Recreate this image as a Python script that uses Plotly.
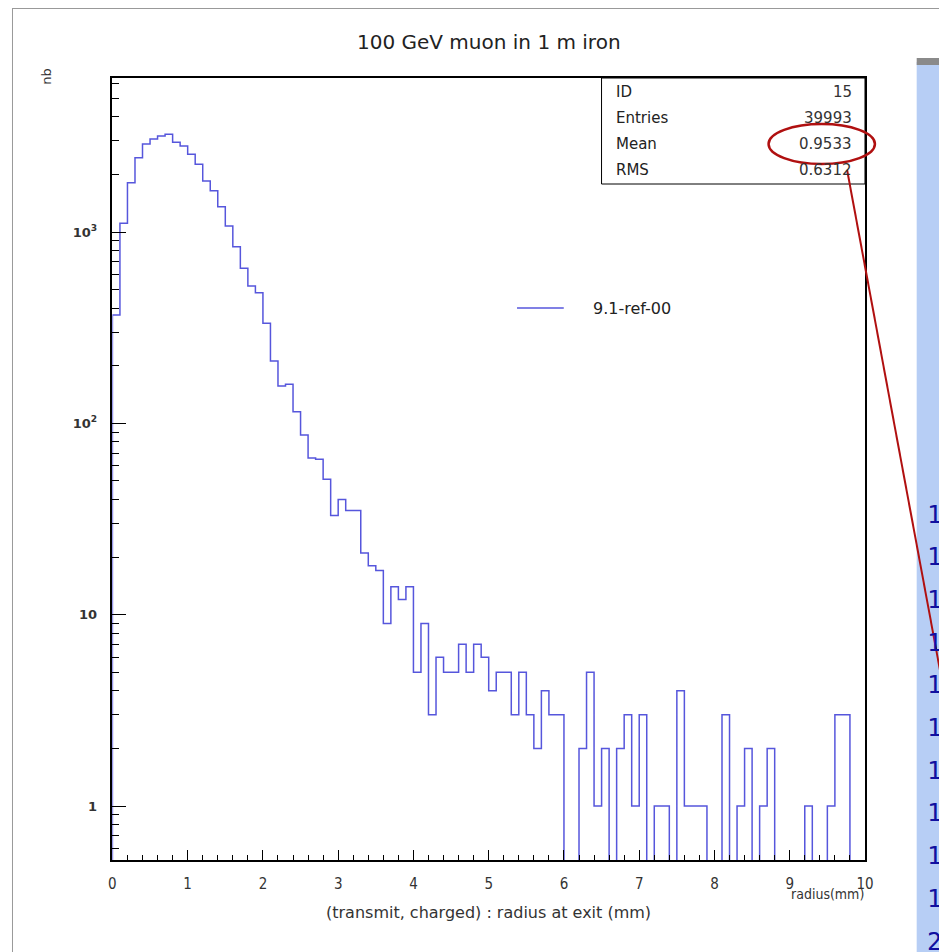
import numpy as np
import plotly.graph_objects as go

# bin contents, 100 bins of 0.1 mm between 0 and 10 mm
counts = [
    368, 1110, 1810, 2445, 2885, 3063, 3177, 3243, 2945, 2820,
    2547, 2258, 1849, 1644, 1356, 1075, 838, 646, 522, 482,
    334, 212, 157, 160, 115, 87, 66, 65, 51, 33,
    40, 35, 35, 21, 18, 17, 9, 14, 12, 14,
    5, 9, 3, 6, 5, 5, 7, 5, 7, 6,
    4, 5, 5, 3, 5, 3, 2, 4, 3, 3,
    0, 0, 2, 5, 1, 2, 0, 2, 3, 1,
    3, 0, 1, 1, 0, 4, 1, 1, 1, 0,
    0, 3, 0, 1, 2, 0, 1, 2, 0, 0,
    0, 0, 1, 0, 0, 1, 3, 3, 0, 0,
]
x_lo, x_hi = 0.0, 10.0
stat_names = ["ID", "Entries", "Mean", "RMS"]
stat_values = ["15", "39993", "0.9533", "0.6312"]
side_digits = ["1"] * 10 + ["2"]

# the page body adds an 8 px margin, the figure starts at (8, 8)
OFF = 8
W, H = 947, 952 - OFF
KX = 1.008  # small horizontal stretch seen in the renders


def px(x):
    return min((x - OFF) * KX / W, 1)


def py(y):
    return 1 - (y - OFF) / H


edges = np.linspace(x_lo, x_hi, len(counts) + 1)
floor = 1e-3  # empty bins drop below the frame
vals = np.where(np.array(counts) > 0, counts, floor)
xs = np.concatenate(([x_lo], edges[:-1], [x_hi]))
ys = np.concatenate(([floor], vals, [floor]))

fig = go.Figure()
fig.add_trace(go.Scatter(
    x=xs, y=ys, mode="lines", line=dict(shape="hv", color="#5656dc", width=1.5),
    showlegend=False, hoverinfo="skip"))

SANS = "DejaVu Sans, Verdana, sans-serif"
NARROW = "Liberation Sans Narrow, Arial Narrow, DejaVu Sans Condensed, sans-serif"

fig.update_layout(
    width=W, height=H,
    margin=dict(l=0, r=0, t=0, b=0),
    paper_bgcolor="white", plot_bgcolor="white",
    font=dict(family=SANS, color="#333333", size=12),
    showlegend=False,
    xaxis=dict(
        domain=[px(109), px(866)], range=[x_lo, x_hi],
        showgrid=False, zeroline=False,
        showline=True, linecolor="black", linewidth=1.5, mirror=True,
        ticks="inside", ticklen=10, tickcolor="black", tickwidth=1,
        tickvals=list(range(0, 11)), ticklabelstandoff=9,
        tickfont=dict(family=NARROW, size=15, color="#333333"),
        minor=dict(ticks="inside", ticklen=5, dtick=0.2, tickcolor="black", showgrid=False),
    ),
    yaxis=dict(
        domain=[py(860), py(78)], type="log", range=[-0.282, 3.805],
        showgrid=False, zeroline=False,
        showline=True, linecolor="black", linewidth=1.5, mirror=True,
        ticks="inside", ticklen=14, tickcolor="black", tickwidth=1,
        tickvals=[1, 10, 100, 1000],
        ticktext=["1", "10", "10<sup>2</sup>", "10<sup>3</sup>"],
        ticklabelstandoff=11,
        tickfont=dict(family=SANS, size=13, color="#333333", weight="bold"),
        minor=dict(ticks="inside", ticklen=7, dtick="D1", tickcolor="black", showgrid=False),
    ),
)

shapes = []
ann = []


def label(text, x, y, size, color="#333333", xanchor="center", family=SANS, **kw):
    ann.append(dict(text=text, x=px(x), y=py(y), xref="paper", yref="paper",
                    xanchor=xanchor, yanchor="middle", showarrow=False,
                    font=dict(size=size, color=color, family=family), **kw))


# canvas border
shapes.append(dict(type="line", xref="paper", yref="paper", x0=px(8.5), x1=px(8.5), y0=py(8), y1=py(952),
                   line=dict(color="#999999", width=1)))
shapes.append(dict(type="line", xref="paper", yref="paper", x0=px(8), x1=1, y0=py(8.5), y1=py(8.5),
                   line=dict(color="#999999", width=1)))

# title and axis labels
label("100 GeV muon in 1 m iron", 488, 42, 20, "#222222")
label("(transmit, charged) : radius at exit (mm)", 487, 912, 16)
label("radius(mm)", 867, 894, 14, xanchor="right", family=NARROW)
label("nb", 42, 76, 13, textangle=-90)

# stats box
shapes.append(dict(type="rect", xref="paper", yref="paper", x0=px(601), x1=px(866), y0=py(184), y1=py(78),
                   line=dict(color="black", width=1), fillcolor="white"))
for i, (name, val) in enumerate(zip(stat_names, stat_values)):
    yy = 92 + 26 * i
    label(name, 614, yy, 15, "#222222", xanchor="left")
    label(val, 855, yy, 15, xanchor="right")

# legend entry
shapes.append(dict(type="line", xref="paper", yref="paper", x0=px(516), x1=px(563), y0=py(308), y1=py(308),
                   line=dict(color="#5656dc", width=1.5)))
label("9.1-ref-00", 590, 308, 16, "#222222", xanchor="left")

# side panel
shapes.append(dict(type="rect", xref="paper", yref="paper", x0=px(918), x1=1, y0=py(952), y1=py(62),
                   line=dict(width=0), fillcolor="#b7cef5", layer="below"))
shapes.append(dict(type="rect", xref="paper", yref="paper", x0=px(918), x1=1, y0=py(65), y1=py(58),
                   line=dict(width=0), fillcolor="#8a8a8a"))
for i, d in enumerate(side_digits):
    label(d, 926, 514 + 42.7 * i, 25, "#1010a0", xanchor="left",
          family="DejaVu Sans Mono, monospace")

# red highlight
shapes.append(dict(type="circle", xref="paper", yref="paper", x0=px(769), x1=px(876), y0=py(164), y1=py(124),
                   line=dict(color="#b01010", width=2.5)))
shapes.append(dict(type="line", xref="paper", yref="paper", x0=px(848), x1=px(947), y0=py(170), y1=py(700),
                   line=dict(color="#b01010", width=2)))

fig.update_layout(shapes=shapes, annotations=ann)

fig.write_html("out.html")
